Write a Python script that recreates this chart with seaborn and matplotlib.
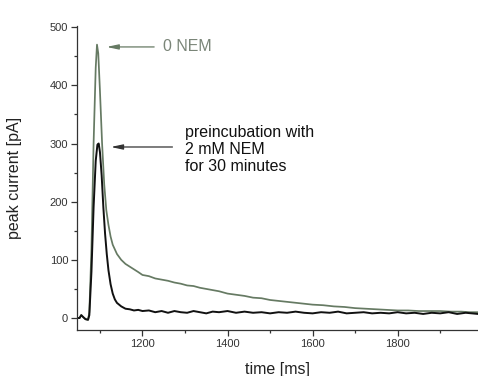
import numpy as np
import pandas as pd
import seaborn as sns
import matplotlib.pyplot as plt
from matplotlib.ticker import MultipleLocator

# control trace (0 NEM)
t_ctrl = [1046, 1052, 1056, 1060, 1066, 1072, 1075, 1080, 1085, 1090, 1093, 1096,
          1100, 1105, 1110, 1115, 1120, 1125, 1130, 1140, 1150, 1160, 1175, 1190,
          1200, 1215, 1230, 1245, 1260, 1275, 1290, 1305, 1320, 1335, 1350, 1365,
          1380, 1400, 1420, 1440, 1460, 1480, 1500, 1525, 1550, 1575, 1600, 1625,
          1650, 1675, 1700, 1725, 1750, 1775, 1800, 1825, 1850, 1875, 1900, 1925,
          1950, 1970, 1989]
i_ctrl = [0, 0, 5, 2, -2, -3, 10, 120, 300, 430, 470, 455,
          390, 300, 230, 185, 160, 140, 126, 110, 100, 93, 86, 79,
          74, 72, 68, 66, 64, 61, 59, 56, 55, 52, 50, 48,
          46, 42, 40, 38, 35, 34, 31, 29, 27, 25, 23, 22,
          20, 19, 17, 16, 15, 14, 13, 13, 12, 12, 12, 11,
          11, 10, 10]

# after 30 min preincubation with 2 mM NEM
t_nem = [1046, 1052, 1056, 1060, 1066, 1072, 1075, 1080, 1085, 1090, 1094, 1097,
         1100, 1104, 1108, 1112, 1116, 1120, 1125, 1130, 1135, 1140, 1150, 1160,
         1170, 1180, 1190, 1200, 1215, 1230, 1245, 1260, 1275, 1290, 1305, 1320,
         1335, 1350, 1365, 1380, 1400, 1420, 1440, 1460, 1480, 1500, 1520, 1540,
         1560, 1580, 1600, 1620, 1640, 1660, 1680, 1700, 1720, 1740, 1760, 1780,
         1800, 1820, 1840, 1860, 1880, 1900, 1920, 1940, 1960, 1975, 1989]
i_nem = [0, 0, 5, 2, -2, -3, 5, 80, 190, 270, 298, 300,
         285, 245, 190, 145, 110, 82, 58, 42, 32, 26, 20, 16,
         15, 13, 14, 12, 13, 10, 12, 9, 12, 10, 9, 12,
         10, 8, 11, 10, 12, 9, 11, 9, 10, 8, 10, 9,
         11, 9, 8, 10, 9, 11, 8, 9, 10, 8, 9, 8,
         10, 8, 9, 7, 9, 8, 10, 7, 9, 8, 7]

sns.set_style("ticks")
plt.rcParams['font.family'] = ['Liberation Sans', 'DejaVu Sans']

fig = plt.figure(figsize=(4.78, 3.76), dpi=100)
ax = fig.add_axes([77 / 478, 46 / 376, 401 / 478, 304 / 376])

gray = '#667a63'
sns.lineplot(x=t_ctrl, y=i_ctrl, ax=ax, color=gray, lw=1.25, estimator=None)
sns.lineplot(x=t_nem, y=i_nem, ax=ax, color='#111111', lw=1.4, estimator=None)

ax.set_xlim(1046, 1989)
ax.set_ylim(-20.6, 502)
ax.xaxis.set_major_locator(MultipleLocator(200))
ax.xaxis.set_minor_locator(MultipleLocator(100))
ax.yaxis.set_major_locator(MultipleLocator(100))
ax.yaxis.set_minor_locator(MultipleLocator(50))
ax.tick_params(which='major', length=4.3, width=0.9, pad=2, labelsize=8, colors='#333333')
ax.tick_params(which='minor', length=2.3, width=0.9, colors='#333333')
sns.despine(ax=ax)
for s in ['left', 'bottom']:
    ax.spines[s].set_color('#333333')
    ax.spines[s].set_linewidth(0.9)

ax.set_xlabel('time [ms]', fontsize=11.5, color='#222222')
ax.set_ylabel('peak current [pA]', fontsize=11.5, color='#222222')
ax.xaxis.set_label_coords(0.5, -0.105)
ax.yaxis.set_label_coords(-0.137, 0.5)

ax.annotate('', xy=(1109, 466), xytext=(1234, 466),
            arrowprops=dict(arrowstyle='-|>,head_length=0.7,head_width=0.15', color=gray, lw=0.9))
ax.text(1248, 467, '0 NEM', fontsize=11.5, color='#7a8578', va='center', ha='left')

ax.annotate('', xy=(1119, 294), xytext=(1277, 294),
            arrowprops=dict(arrowstyle='-|>,head_length=0.7,head_width=0.15', color='#333333', lw=0.9))
ax.text(1300, 290, 'preincubation with\n2 mM NEM\nfor 30 minutes', fontsize=11.5,
        color='#111111', va='center', ha='left', linespacing=1.15)

fig.savefig('out.png', dpi=100)
